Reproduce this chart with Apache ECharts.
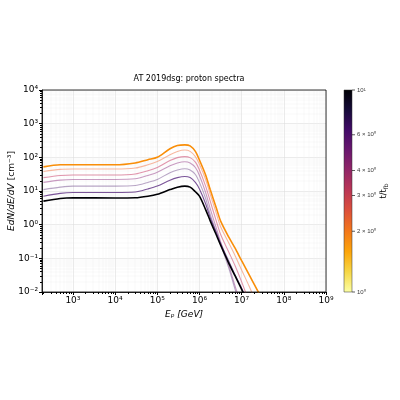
<!DOCTYPE html>
<html><head><meta charset="utf-8">
<script src="https://cdn.jsdelivr.net/npm/echarts@6/dist/echarts.min.js"></script>
<style>html,body{margin:0;background:#fff}#c{width:400px;height:400px}</style>
</head><body><div id="c"></div>
<script>
const energies = [2e2,5e2,1e3,1e4,3e4,6e4,1e5,2e5,3e5,4.5e5,6e5,8e5,1e6,1.4e6,1.8e6,2.5e6,3.2e6,5e6,7e6,1e7,1.5e7,2.6e7];
const tValues = [1.7, 2.2, 3, 4, 6, 8, 10];
const spectra = [
  [52,60,60,60,68,85,100,180,225,235,220,150,83,30,11,3.2,1.25,0.42,0.2,0.085,0.033,0.009],
  [38,44,45,45,48,60,75,120,150,165,150,105,62,22,8,2.2,0.85,0.28,0.12,0.045,0.015,0.003],
  [25,29,30,30,32,40,50,80,98,105,98,72,42,14,5,1.3,0.5,0.15,0.06,0.02,0.005,0.0005],
  [18,21,22,22,23,29,36,56,68,74,68,50,29,9,3,0.8,0.3,0.06,0.015,0.004,0.001,0.0001],
  [11,13,14,14,14.5,18,22,35,42,46,42,31,18,6,2,0.6,0.25,0.05,0.012,0.003,0.0007,0.0001],
  [7,8.5,9,9,9.3,11.5,14,21,25,27,25,18,11.5,4.2,1.6,0.6,0.27,0.08,0.032,0.013,0.004,0.0006],
  [5,6,6.3,6.2,6.3,7,8,11,13,14,13,9.5,7,2.8,1.3,0.5,0.24,0.07,0.03,0.012,0.004,0.0005]
];
const curveColors = ['#f98e09', '#f4a080', '#d66a8a', '#a55a9a', '#8a6aa0', '#5a2a80', '#000004'];
const curveOpacity = [1, 0.75, 0.7, 0.6, 0.6, 0.8, 1];
const cbTicks = [1, 2, 3, 4, 6, 10];
const cbLabels = ['10⁰', '2 × 10⁰', '3 × 10⁰', '4 × 10⁰', '6 × 10⁰', '10¹'];
const inferno = ['#fcffa4','#f6d746','#fca50a','#f37819','#dd513a','#bc3754','#932667','#6a176e','#420a68','#160b39','#000004'];

const sup = {'-':'⁻','0':'⁰','1':'¹','2':'²','3':'³','4':'⁴','5':'⁵','6':'⁶','7':'⁷','8':'⁸','9':'⁹'};
function pow10(v){ const e=Math.log10(v); if(Math.abs(e-Math.round(e))>1e-6) return ''; return '10'+String(Math.round(e)).split('').map(c=>sup[c]).join(''); }

const series = spectra.map((vals,i)=>({
  type:'line', xAxisIndex:0, yAxisIndex:0, smooth:0.3, symbol:'none',
  data: energies.map((e,j)=>[e, vals[j]]),
  lineStyle:{color:curveColors[i], width:(i===0||i===6)?1.6:1.1, opacity:curveOpacity[i]},
  z: (i===0||i===6)?5:3
}));
series.push({
  type:'line', xAxisIndex:1, yAxisIndex:1, data:[], symbol:'none',
  markArea:{silent:true, data:[[{xAxis:0, yAxis:1},{xAxis:1, yAxis:10}]],
    itemStyle:{borderColor:'#333', borderWidth:0.5, color:{type:'linear',x:0,y:1,x2:0,y2:0,
      colorStops: inferno.map((c,k)=>({offset:k/(inferno.length-1), color:c}))}}}
});
series.push({
  type:'scatter', xAxisIndex:1, yAxisIndex:1, symbol:'rect', symbolSize:[3,0.8], symbolOffset:[1.5,0],
  itemStyle:{color:'#000'}, data: cbTicks.map((t,k)=>({value:[1,t], label:{show:true, position:'right', distance:2, formatter:cbLabels[k], fontSize:6, color:'#000'}}))
});

const axisCommon = {
  axisLine:{show:true, onZero:false, lineStyle:{color:'#000', width:0.8}},
  axisTick:{show:true, length:3, lineStyle:{color:'#000'}},
  minorTick:{show:true, splitNumber:9, length:2, lineStyle:{color:'#000'}},
  splitLine:{show:true, lineStyle:{color:'#ddd', width:0.6}},
  minorSplitLine:{show:true, lineStyle:{color:'#eee', width:0.4}},
  axisLabel:{formatter:pow10, fontSize:9, color:'#000', fontFamily:'DejaVu Sans', margin:4, hideOverlap:false}
};
const chart = echarts.init(document.getElementById('c'), null, {renderer:'canvas'});
chart.setOption({
  animation:false,
  title:{text:'AT 2019dsg: proton spectra', left:184, top:70, textAlign:'center', textStyle:{fontSize:8, fontWeight:'normal', color:'#000', fontFamily:'DejaVu Sans'}},
  grid:[{left:42, right:74, top:90, bottom:108, containLabel:false, outerBoundsMode:'none'},
        {left:344, right:48, top:90, bottom:108, containLabel:false, outerBoundsMode:'none'}],
  xAxis:[Object.assign({type:'log', min:185, max:1e9, logBase:10,
    name:'Eₚ [GeV]', nameLocation:'middle', nameGap:16, nameTextStyle:{fontSize:9, color:'#000', fontStyle:'italic', fontFamily:'DejaVu Sans'}}, axisCommon),
   {type:'value', gridIndex:1, min:0, max:1, show:false}],
  yAxis:[Object.assign({type:'log', min:1e-2, max:1e4, logBase:10}, axisCommon),
   {type:'log', gridIndex:1, min:1, max:10, show:false}],
  graphic:[
    {type:'rect', shape:{x:42,y:90,width:284,height:202}, style:{fill:'none', stroke:'#000', lineWidth:0.8}, z:10, silent:true},
    {type:'text', x:12, y:191, rotation:Math.PI/2, style:{text:'{i|EdN/dE/dV} {n|[cm⁻³]}', rich:{i:{fontSize:9, fontStyle:'italic', fill:'#000', fontFamily:'DejaVu Sans'}, n:{fontSize:9, fill:'#000', fontFamily:'DejaVu Sans'}}, textAlign:'center', textVerticalAlign:'middle'}},
    {type:'text', x:384, y:191, rotation:Math.PI/2, style:{text:'{a|t/t}{b|fb}', rich:{a:{fontSize:8, fill:'#000', fontFamily:'DejaVu Sans'}, b:{fontSize:6, fill:'#000', fontFamily:'DejaVu Sans', verticalAlign:'bottom', padding:[4,0,0,0]}}, textAlign:'center', textVerticalAlign:'middle'}}
  ],
  series
});
</script></body></html>
